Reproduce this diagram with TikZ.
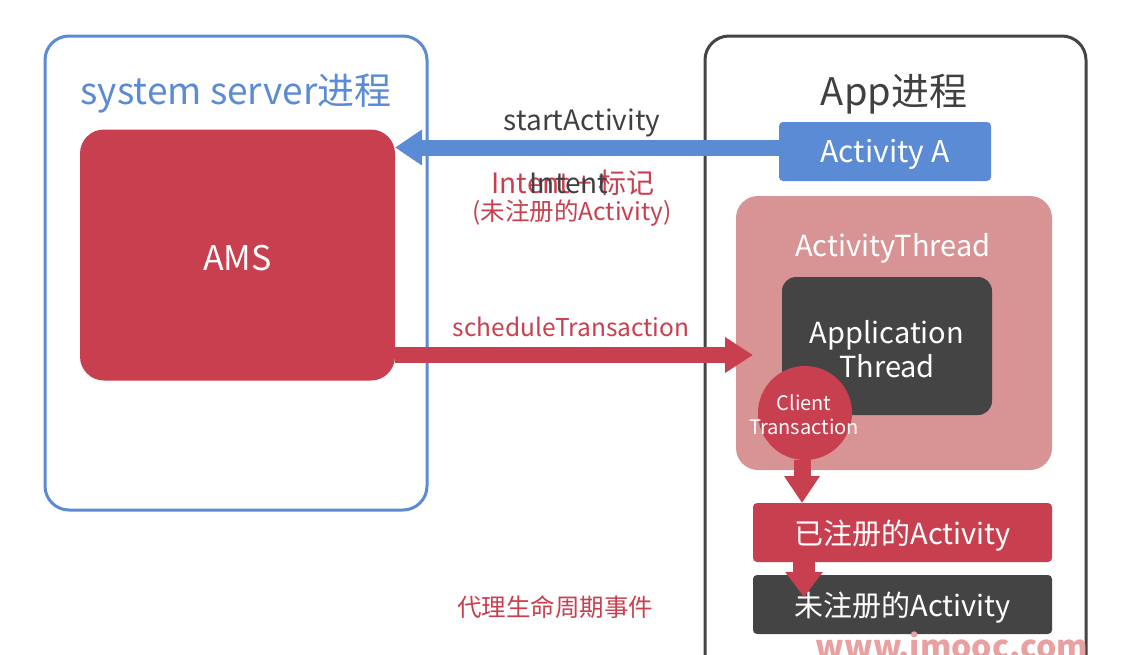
\documentclass[tikz,border=0pt]{standalone}
\usepackage{fontspec}
\setmainfont{Noto Sans CJK SC}
\usetikzlibrary{arrows.meta,calc}
\definecolor{cblue}{RGB}{91,139,212}
\definecolor{cred}{RGB}{200,64,79}
\definecolor{cpink}{RGB}{216,148,148}
\definecolor{cdark}{RGB}{68,68,68}
\definecolor{ctext}{RGB}{64,64,64}
\definecolor{cwm}{RGB}{232,160,160}
\newcommand{\fs}[1]{\fontsize{#1}{#1}\selectfont}
\tikzset{
  box/.style={draw=none, rounded corners=#1, inner sep=0pt, outer sep=0pt},
  proc/.style={rounded corners=24pt, line width=3pt, fill=white},
  fat/.style={line width=16pt},
  tx/.style={yshift=-3pt, inner sep=0pt},
}
\begin{document}
\begin{tikzpicture}[x=1pt,y=-1pt]
\useasboundingbox (0,0) rectangle (1124,654);
\fill[white] (0,0) rectangle (1124,654);
% process frames
\draw[proc, draw=cblue] (45,36) rectangle (427,510);
\draw[proc, draw=cdark] (705,36) rectangle (1086,700);
\node[tx, text=cblue, font=\fs{37}] (sst) at (236,91) {system server进程};
\node[tx, text=ctext, font=\fs{38}] (appt) at (894,91) {App进程};
% AMS
\node[box=24pt, fill=cred, minimum width=315pt, minimum height=251pt] (ams) at (237.5,255) {};
\node[tx, text=white, font=\fs{34}] (amst) at (ams.center) {AMS};
% Activity A
\node[box=4pt, fill=cblue, minimum width=212pt, minimum height=59pt] (aa) at (885,151.5) {};
\node[tx, text=white, font=\fs{30}] (aat) at (aa.center) {Activity A};
% ActivityThread
\node[box=22pt, fill=cpink, minimum width=316pt, minimum height=274pt] (at) at (894,333) {};
\node[tx, text=white, font=\fs{29}] (att) at (893,245) {ActivityThread};
\node[box=14pt, fill=cdark, minimum width=210pt, minimum height=138pt] (apt) at (887,346) {};
\node[tx, text=white, font=\fs{29}, align=center] (aptt) at (apt.center) {Application\\[3pt]Thread};
\node[circle, fill=cred, minimum size=94pt, inner sep=0pt] (ct) at (805,413) {};
\node[tx, text=white, font=\fs{20}, align=center] (ctt) at (804,412) {Client\\[4pt]Transaction};
% registered / unregistered
\node[box=4pt, fill=cred, minimum width=299pt, minimum height=59pt] (reg) at (902.5,532.5) {};
\node[box=4pt, fill=cdark, minimum width=299pt, minimum height=59pt] (unreg) at (902.5,604.5) {};
% arrows
\draw[fat, cblue, -{Triangle[length=27pt,width=34pt]}] ([yshift=4pt]aa.west) -- ([yshift=4pt]aa.west -| ams.east);
\coordinate (stend) at (753,355);
\draw[fat, cred, -{Triangle[length=28pt,width=34pt]}] (ams.east |- stend) -- (stend);
\draw[line width=17pt, cred, -{Triangle[length=27pt,width=34pt]}] ([xshift=-3pt]ct.south) -- ([xshift=-3pt]ct.south |- reg.north);
\node[tx, text=white, font=\fs{29}] (regt) at (reg.center) {已注册的Activity};
\node[tx, text=white, font=\fs{29}] (unregt) at (unreg.center) {未注册的Activity};
\coordinate (unend) at (804,597);
\draw[line width=22pt, cred, -{Triangle[length=25pt,width=36pt]}] (reg.south -| unend) -- (unend);
% labels
\node[tx, text=ctext, font=\fs{28}] (sa) at (582,120) {startActivity};
\node[tx, text=cred, font=\fs{28}] (intent) at (573,180) {Intent + 标记};
\node[tx, text=ctext, font=\fs{28}] (intent2) at (569,180) {Intent};
\node[tx, text=cred, font=\fs{24.5}] (unr) at (572,210) {(未注册的Activity)};
\node[tx, text=cred, font=\fs{24.5}] (sched) at (571,324) {scheduleTransaction};
\node[tx, text=cred, font=\fs{24.5}] (proxy) at (555,604) {代理生命周期事件};
\node[inner sep=0pt, anchor=base, text=cwm, font=\bfseries\fs{32}] (wm) at (952,658) {www.imooc.com};
\end{tikzpicture}
\end{document}
